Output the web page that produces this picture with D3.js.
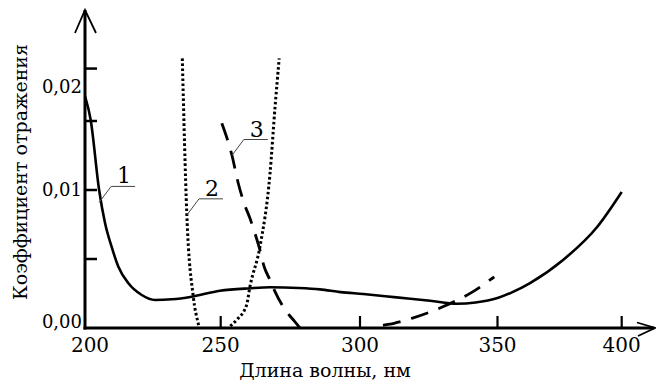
<!DOCTYPE html>
<html>
<head>
<meta charset="utf-8">
<script src="https://cdn.jsdelivr.net/npm/d3@7"></script>
<style>
  body { margin: 0; background: #fff; }
</style>
</head>
<body>
<div class="chart"></div>
<script>
// x axis ticks and labels (nm)
var xTickValues = [250, 300, 350, 400];
var xLabelValues = [200, 250, 300, 350, 400];
var xLabels = ["200", "250", "300", "350", "400"];

// y axis ticks and labels (as drawn on the original figure)
var yTickValues = [0.005, 0.01, 0.015, 0.0188];
var yLabelValues = [0, 0.01, 0.0175];
var yLabels = ["0,00", "0,01", "0,02"];

// curve 1 (solid)
var wl1 = [200, 202.1, 205.2, 207.4, 209.8, 212.3, 216, 220.9, 225.8, 232, 239.3, 249.7, 260.5, 267.7, 278, 285.6, 293, 301.2, 313.3, 325.5, 335.2, 342, 350, 356, 363.1, 376.4, 390.1, 400];
var r1  = [0.0168, 0.01507, 0.0100, 0.00759, 0.00589, 0.00444, 0.00324, 0.00239, 0.00203, 0.00208, 0.00227, 0.0027, 0.00288, 0.00295, 0.0029, 0.0028, 0.0026, 0.00246, 0.00222, 0.00198, 0.00176, 0.00185, 0.00217, 0.0026, 0.00326, 0.00493, 0.00732, 0.00986];

// curve 2 (dotted)
var wl2 = [235.85, 237.5, 239.9, 241.7, 244.5, 248, 253.3, 255.7, 259.3, 260.5, 264.1, 267.7, 269.5, 271.0];
var r2  = [0.01954, 0.0083, 0.00227, 0.00034, -0.0012, -0.0014, 0.0001, 0.00058, 0.00167, 0.0030, 0.0059, 0.0112, 0.0160, 0.01954];

// curve 3 (dashed)
var wl3 = [250.4, 254.0, 256.3, 258.4, 260.5, 262.3, 263.9, 265.6, 267.7, 269.5, 272.4, 276.6, 284, 292, 300, 305.5, 312.7, 319.1, 329.9, 340.8, 348.8];
var r3  = [0.01483, 0.01254, 0.01049, 0.00904, 0.00795, 0.00686, 0.00578, 0.00444, 0.00348, 0.00263, 0.00154, 0.00046, -0.0011, -0.0016, -0.0009, 0.0, 0.00036, 0.00072, 0.00152, 0.0026, 0.0037];

var curveLabels = ["1", "2", "3"];
var labelAnchorWl = [205.2, 237.6, 254.0];
var labelAnchorR = [0.0091, 0.0082, 0.0125];

var width = 656, height = 383;
var serif = "'DejaVu Serif', serif";

var svg = d3.select(".chart")
            .append("svg")
            .attr("width", width)
            .attr("height", height)
            .attr("font-family", serif);

var x = d3.scaleLinear()
    .domain([200, 250, 300, 350, 400])
    .range([85, 220.7, 360, 497.5, 621.7]);

var y = d3.scaleLinear()
    .domain([0, 0.01])
    .range([328, 190]);

svg.append("clipPath")
    .attr("id", "clip")
  .append("rect")
    .attr("x", x(200))
    .attr("y", 0)
    .attr("width", width - x(200))
    .attr("height", y(0) - 1);

var line = d3.line()
    .x(function(d) { return x(d[0]); })
    .y(function(d) { return y(d[1]); })
    .curve(d3.curveMonotoneX);

function pairs(a, b) { return a.map(function(v, i) { return [v, b[i]]; }); }

var curves = [
  {data: pairs(wl1, r1), dash: null, w: 2.6},
  {data: pairs(wl2, r2), dash: "2.6,2.4", w: 3},
  {data: pairs(wl3, r3), dash: "18,11", w: 2.8}
];

svg.append("g")
    .attr("clip-path", "url(#clip)")
  .selectAll("path")
  .data(curves)
  .enter().append("path")
    .attr("d", function(d) { return line(d.data); })
    .attr("fill", "none")
    .attr("stroke", "#000")
    .attr("stroke-width", function(d) { return d.w; })
    .attr("stroke-dasharray", function(d) { return d.dash; });

// axes
var axes = svg.append("g")
    .attr("stroke", "#000")
    .attr("fill", "none");

axes.append("line")
    .attr("x1", x(200)).attr("y1", 10)
    .attr("x2", x(200)).attr("y2", y(0) + 1.5)
    .attr("stroke-width", 3);
axes.append("line")
    .attr("x1", x(200) - 1.5).attr("y1", y(0))
    .attr("x2", 654).attr("y2", y(0))
    .attr("stroke-width", 3);

// arrow heads
axes.append("path")
    .attr("d", "M" + (x(200) - 10) + ",33L" + x(200) + ",10L" + (x(200) + 11) + ",33")
    .attr("stroke-width", 1.8);
axes.append("path")
    .attr("d", "M637," + (y(0) - 5.5) + "L655," + y(0) + "L638," + (y(0) + 8))
    .attr("stroke-width", 1.8);

axes.selectAll(".xt")
  .data(xTickValues)
  .enter().append("line")
    .attr("x1", function(d) { return x(d); })
    .attr("x2", function(d) { return x(d); })
    .attr("y1", y(0))
    .attr("y2", y(0) - 12)
    .attr("stroke-width", 2.2);

axes.selectAll(".yt")
  .data(yTickValues)
  .enter().append("line")
    .attr("x1", x(200))
    .attr("x2", x(200) + 12)
    .attr("y1", function(d) { return y(d); })
    .attr("y2", function(d) { return y(d); })
    .attr("stroke-width", 2.5);

svg.selectAll(".xl")
  .data(xLabelValues)
  .enter().append("text")
    .attr("x", function(d) { return x(d) + (d === 200 ? 5 : 0); })
    .attr("y", 352)
    .attr("text-anchor", "middle")
    .attr("font-size", 20)
    .text(function(d, i) { return xLabels[i]; });

svg.selectAll(".yl")
  .data(yLabelValues)
  .enter().append("text")
    .attr("x", 82)
    .attr("y", function(d) { return y(d) + (d === 0 ? -6 : 0); })
    .attr("dy", "0.35em")
    .attr("text-anchor", "end")
    .attr("font-size", 18)
    .text(function(d, i) { return yLabels[i]; });

// curve labels with leaders
var lab = svg.selectAll(".lab")
  .data(curveLabels)
  .enter().append("g");

lab.append("path")
    .attr("d", function(d, i) {
      var ax = x(labelAnchorWl[i]), ay = y(labelAnchorR[i]);
      return "M" + ax + "," + ay + "L" + (ax + 12) + "," + (ay - 16) + "L" + (ax + 36) + "," + (ay - 16);
    })
    .attr("fill", "none")
    .attr("stroke", "#444")
    .attr("stroke-width", 1);

lab.append("text")
    .attr("x", function(d, i) { return x(labelAnchorWl[i]) + 25; })
    .attr("y", function(d, i) { return y(labelAnchorR[i]) - 19; })
    .attr("text-anchor", "middle")
    .attr("font-size", 22)
    .text(function(d) { return d; });

svg.append("text")
    .attr("x", 325)
    .attr("y", 377)
    .attr("text-anchor", "middle")
    .attr("font-size", 19)
    .text("Длина волны, нм");

svg.append("text")
    .attr("transform", "translate(27,172) rotate(-90)")
    .attr("text-anchor", "middle")
    .attr("font-size", 19)
    .text("Коэффициент отражения");
</script>
</body>
</html>
